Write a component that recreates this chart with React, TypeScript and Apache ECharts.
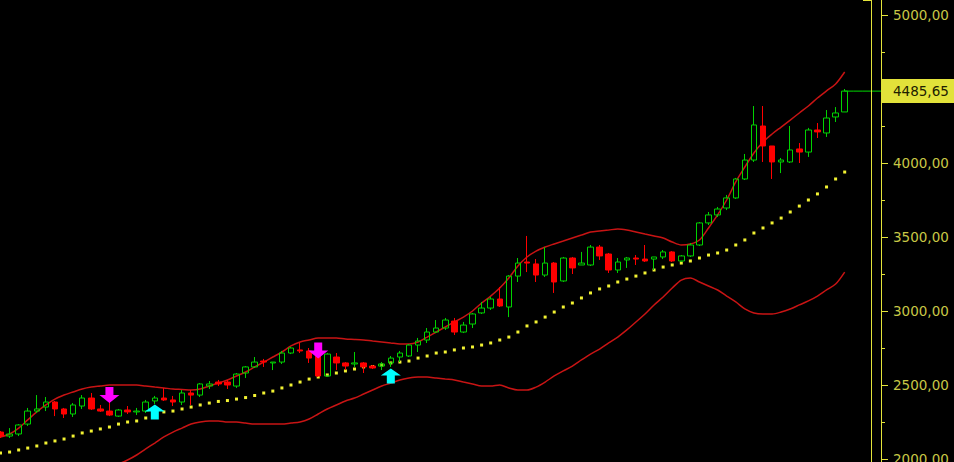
import React, { useEffect, useRef } from "react";
import * as echarts from "echarts";

// ---- data ----
const opens = [2182, 2155, 2169, 2236, 2324, 2351, 2385, 2338, 2304, 2358, 2412, 2338, 2324, 2290, 2331, 2318, 2324, 2392, 2412, 2399, 2385, 2446, 2432, 2493, 2520, 2520, 2493, 2581, 2622, 2662, 2649, 2655, 2716, 2737, 2730, 2723, 2561, 2689, 2649, 2642, 2649, 2628, 2628, 2649, 2689, 2696, 2770, 2804, 2858, 2885, 2932, 2858, 2912, 2987, 3020, 3081, 3027, 3236, 3331, 3318, 3243, 3324, 3203, 3358, 3311, 3311, 3432, 3385, 3277, 3345, 3358, 3351, 3351, 3365, 3399, 3338, 3372, 3446, 3595, 3649, 3696, 3764, 3892, 4020, 4250, 4115, 4007, 4007, 4095, 4074, 4223, 4203, 4311, 4345];
const closes = [2155, 2169, 2230, 2324, 2338, 2385, 2338, 2304, 2365, 2412, 2338, 2324, 2297, 2331, 2318, 2324, 2385, 2412, 2399, 2385, 2446, 2432, 2507, 2507, 2507, 2500, 2574, 2622, 2655, 2655, 2655, 2716, 2750, 2730, 2682, 2561, 2709, 2649, 2628, 2649, 2622, 2615, 2642, 2682, 2716, 2770, 2797, 2858, 2885, 2939, 2858, 2905, 2980, 3020, 3081, 3034, 3236, 3324, 3324, 3243, 3324, 3196, 3358, 3291, 3324, 3432, 3372, 3277, 3331, 3358, 3351, 3338, 3365, 3399, 3338, 3372, 3446, 3595, 3649, 3689, 3764, 3892, 4020, 4257, 4115, 4007, 4020, 4088, 4074, 4223, 4210, 4304, 4338, 4485.65];
const highs = [2189, 2209, 2236, 2345, 2432, 2419, 2392, 2345, 2378, 2432, 2446, 2365, 2399, 2338, 2358, 2345, 2399, 2426, 2480, 2426, 2466, 2466, 2513, 2527, 2534, 2534, 2581, 2628, 2689, 2676, 2655, 2730, 2757, 2784, 2750, 2743, 2716, 2716, 2655, 2723, 2655, 2635, 2655, 2696, 2730, 2777, 2818, 2885, 2939, 2953, 2953, 2926, 2987, 3061, 3095, 3162, 3243, 3358, 3507, 3351, 3432, 3331, 3365, 3365, 3399, 3446, 3446, 3392, 3358, 3365, 3378, 3446, 3365, 3412, 3405, 3378, 3459, 3601, 3669, 3703, 3784, 3899, 4061, 4385, 4385, 4115, 4034, 4250, 4135, 4237, 4270, 4358, 4378, 4500];
const lows = [2142, 2142, 2155, 2223, 2311, 2324, 2290, 2277, 2284, 2338, 2331, 2318, 2290, 2284, 2304, 2297, 2311, 2372, 2392, 2358, 2365, 2365, 2419, 2473, 2493, 2473, 2480, 2547, 2615, 2622, 2601, 2642, 2709, 2716, 2649, 2555, 2554, 2601, 2601, 2622, 2581, 2608, 2601, 2622, 2655, 2689, 2723, 2784, 2851, 2872, 2838, 2851, 2885, 2980, 3007, 3027, 2959, 3196, 3263, 3196, 3230, 3122, 3196, 3250, 3311, 3304, 3345, 3257, 3257, 3291, 3311, 3331, 3277, 3351, 3331, 3331, 3365, 3439, 3581, 3635, 3682, 3757, 3885, 4007, 4007, 3892, 3932, 4000, 4000, 4041, 4169, 4176, 4277, 4345];

const movingAverage = [2040, 2047, 2061, 2074, 2088, 2108, 2122, 2135, 2155, 2176, 2189, 2203, 2216, 2236, 2250, 2257, 2277, 2304, 2318, 2324, 2338, 2351, 2365, 2378, 2389, 2395, 2405, 2415, 2429, 2446, 2459, 2480, 2500, 2520, 2540, 2554, 2568, 2581, 2595, 2608, 2622, 2625, 2635, 2649, 2655, 2662, 2682, 2696, 2716, 2723, 2737, 2750, 2757, 2770, 2784, 2804, 2824, 2858, 2899, 2926, 2959, 2993, 3027, 3054, 3088, 3122, 3149, 3169, 3196, 3216, 3236, 3257, 3277, 3297, 3311, 3324, 3338, 3358, 3378, 3392, 3412, 3446, 3480, 3527, 3561, 3595, 3628, 3669, 3709, 3750, 3791, 3838, 3892, 3939];
const upperBand = [2149, 2169, 2209, 2264, 2318, 2365, 2405, 2432, 2453, 2473, 2486, 2493, 2500, 2500, 2500, 2500, 2493, 2486, 2480, 2473, 2470, 2466, 2473, 2493, 2513, 2534, 2561, 2588, 2622, 2655, 2689, 2723, 2764, 2791, 2804, 2818, 2818, 2818, 2811, 2808, 2804, 2797, 2791, 2784, 2777, 2777, 2791, 2824, 2858, 2892, 2926, 2959, 3000, 3054, 3101, 3155, 3223, 3304, 3365, 3405, 3432, 3453, 3473, 3493, 3513, 3534, 3541, 3547, 3554, 3547, 3534, 3520, 3507, 3493, 3466, 3446, 3453, 3480, 3561, 3649, 3750, 3872, 3973, 4068, 4142, 4196, 4243, 4290, 4338, 4385, 4439, 4487, 4534, 4615];
const lowerBand = [null, null, null, null, null, null, null, null, null, null, null, null, null, 1966, 1993, 2027, 2068, 2108, 2149, 2182, 2209, 2236, 2250, 2257, 2257, 2250, 2250, 2243, 2236, 2236, 2236, 2236, 2243, 2250, 2270, 2304, 2338, 2365, 2392, 2412, 2439, 2466, 2493, 2513, 2534, 2547, 2554, 2554, 2547, 2540, 2534, 2520, 2507, 2493, 2493, 2500, 2480, 2466, 2466, 2486, 2520, 2561, 2595, 2628, 2669, 2709, 2743, 2784, 2824, 2872, 2926, 2980, 3041, 3095, 3155, 3209, 3223, 3196, 3169, 3142, 3101, 3061, 3014, 2987, 2980, 2980, 2993, 3014, 3041, 3068, 3101, 3142, 3182, 3263];

// signal arrows: [candle index, price]
const sellSignals = [[12, 2432], [35, 2733]];
const buySignals = [[17, 2318], [43, 2561]];

const yTicks = { min: 1500, max: 5500, interval: 500 };
const visibleTickRange = [2000, 5000];
const emptySlots = 4;
const categories = Array.from({ length: opens.length + emptySlots }, (_, i) => String(i + 1));

const fmt = (v: number) => v.toFixed(2).replace(".", ",");

// the chart canvas is taller than the window; this much of it sits above the window's top edge
const SHIFT = 59;
const CHART_H = 592;

export default function App() {
  const ref = useRef<HTMLDivElement>(null);

  useEffect(() => {
    document.body.style.margin = "0";
    document.body.style.overflow = "hidden";
    if (!ref.current) return;
    const chart = echarts.init(ref.current, undefined, { renderer: "svg" });
    const candles = opens.map((o, i) => [o, closes[i], lows[i], highs[i]]);
    const last = closes[closes.length - 1];
    const lastIdx = closes.length - 1;
    const priceLine = categories.map((_, i) => (i >= lastIdx ? last : null));
    const font = "DejaVu Sans";
    const yellow = "#e4e43a";

    chart.setOption({
      animation: false,
      backgroundColor: "#000000",
      grid: { left: 0.5, right: 73, top: 0, bottom: 0 },
      xAxis: {
        type: "category",
        data: categories,
        boundaryGap: false,
        show: false,
      },
      yAxis: {
        type: "value",
        position: "right",
        min: yTicks.min,
        max: yTicks.max,
        interval: yTicks.interval,
        axisLine: { show: true, lineStyle: { color: yellow, width: 1 } },
        axisTick: { show: true, length: 7, lineStyle: { color: yellow } },
        minorTick: { show: true, splitNumber: 2, length: 4, lineStyle: { color: yellow } },
        splitLine: { show: false },
        axisLabel: {
          color: "#c8c846",
          fontFamily: font,
          fontSize: 13.5,
          margin: 12,
          // labels hidden outside the window and under the last-price box
          formatter: (v: number) =>
            v < visibleTickRange[0] || v > visibleTickRange[1] || Math.abs(v - last) < 100 ? "" : fmt(v),
        },
      },
      graphic: [
        { type: "line", shape: { x1: 871.5, y1: SHIFT, x2: 871.5, y2: SHIFT + 462 }, style: { stroke: yellow, lineWidth: 1 }, z: 5 },
        { type: "line", shape: { x1: 863, y1: SHIFT + 0.5, x2: 872, y2: SHIFT + 0.5 }, style: { stroke: yellow, lineWidth: 1 }, z: 5 },
      ],
      series: [
        {
          type: "line",
          data: upperBand,
          showSymbol: false,
          smooth: 0.3,
          lineStyle: { color: "#c81414", width: 1.5 },
          silent: true,
          z: 1,
        },
        {
          type: "line",
          data: lowerBand,
          showSymbol: false,
          smooth: 0.3,
          connectNulls: false,
          lineStyle: { color: "#c81414", width: 1.5 },
          silent: true,
          z: 1,
        },
        {
          type: "scatter",
          data: movingAverage,
          symbol: "rect",
          symbolSize: 3,
          itemStyle: { color: "#f2f232", opacity: 1 },
          silent: true,
          z: 2,
        },
        {
          type: "candlestick",
          data: candles,
          barWidth: 6,
          itemStyle: {
            color: "transparent",
            color0: "#ff0000",
            borderColor: "#00d200",
            borderColor0: "#ff0000",
            borderWidth: 1,
          },
          z: 3,
        },
        {
          type: "line",
          data: priceLine,
          showSymbol: false,
          connectNulls: false,
          lineStyle: { color: "#00dc00", width: 1 },
          silent: true,
          z: 3,
          endLabel: {
            show: true,
            distance: 0,
            formatter: () => fmt(last),
            backgroundColor: "#e2e23a",
            color: "#202000",
            fontFamily: font,
            fontSize: 13.5,
            lineHeight: 15,
            padding: [5, 10, 4, 12],
          },
        },
        {
          type: "scatter",
          data: sellSignals,
          symbol: "path://M6,0 L14,0 L14,8 L20,8 L10,16 L0,8 L6,8 Z",
          symbolSize: [20, 16],
          itemStyle: { color: "#ff00ff", opacity: 1 },
          silent: true,
          z: 4,
        },
        {
          type: "scatter",
          data: buySignals,
          symbol: "path://M10,0 L20,7 L14,7 L14,15 L6,15 L6,7 L0,7 Z",
          symbolSize: [20, 15],
          itemStyle: { color: "#00ffff", opacity: 1 },
          silent: true,
          z: 4,
        },
      ],
    });
    return () => chart.dispose();
  }, []);

  return (
    <div
      ref={ref}
      style={{ position: "fixed", left: 0, top: -SHIFT, width: 954, height: CHART_H }}
    />
  );
}
